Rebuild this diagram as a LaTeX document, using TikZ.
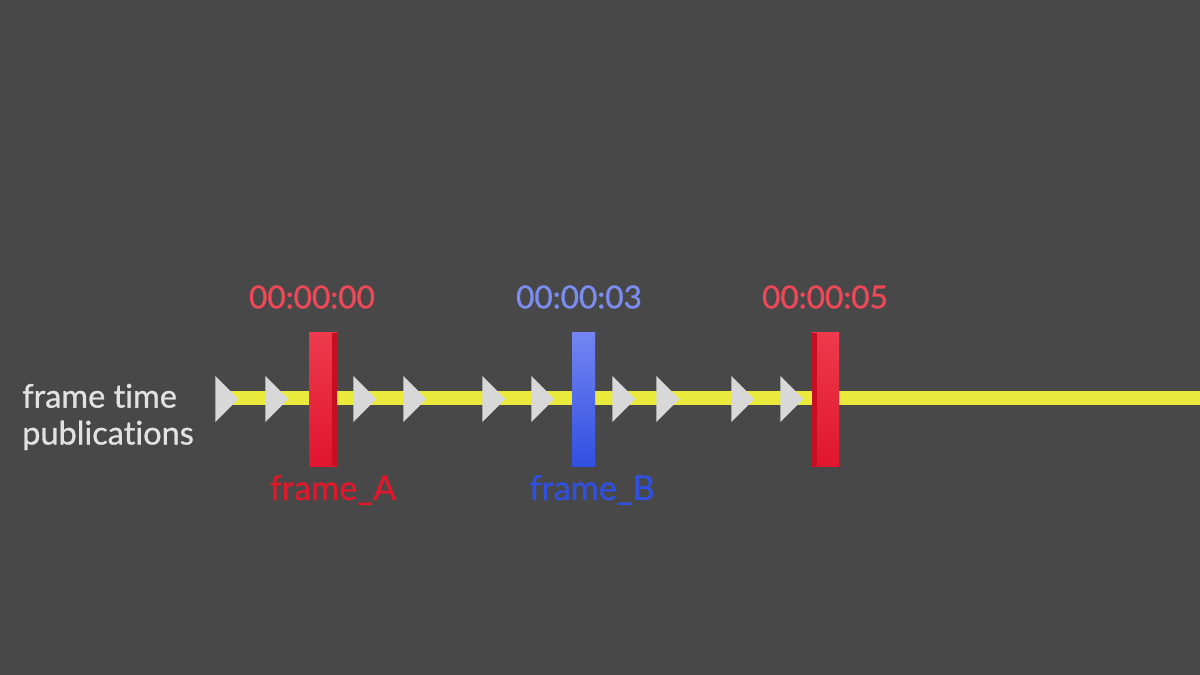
\documentclass[tikz,border=0pt]{standalone}
\usepackage{fontspec}
\setmainfont{Lato}[Ligatures=NoCommon, FakeBold=0.8]
\usepackage{tikz}
\usetikzlibrary{positioning,shapes.geometric}
\definecolor{bgGray}{HTML}{484848}
\definecolor{trackYellow}{HTML}{EAEA3C}
\definecolor{tickGray}{HTML}{D8D8D8}
\definecolor{redTop}{HTML}{EE3A4C}
\definecolor{redBot}{HTML}{E0162E}
\definecolor{redSide}{HTML}{C80E22}
\definecolor{redLabel}{HTML}{F04858}
\definecolor{redName}{HTML}{E0182C}
\definecolor{blueTop}{HTML}{7484F2}
\definecolor{blueBot}{HTML}{3050E2}
\definecolor{blueLabel}{HTML}{7C8CF0}
\definecolor{blueName}{HTML}{3050E0}
\definecolor{textGray}{HTML}{E2E2E2}

\begin{document}
\begin{tikzpicture}[
    x=0.02cm, y=-0.02cm,
    tick/.style={isosceles triangle, isosceles triangle stretches, fill=tickGray,
        minimum height=23*0.02cm, minimum width=46*0.02cm, inner sep=0pt, anchor=west},
    bar/.style={minimum width=28*0.02cm, minimum height=133*0.02cm, inner sep=0pt},
    stamp/.style={font=\fontsize{18}{21}\selectfont},
    framename/.style={font=\fontsize{19.5}{22}\selectfont},
    rowtext/.style={font=\fontsize{18.5}{21}\selectfont},
]
    % background
    \fill[bgGray] (0,0) rectangle (1200,675);
    \useasboundingbox (0,0) rectangle (1200,675);

    % track
    \coordinate (start) at (220,398);
    \coordinate (end) at (1200,398);
    \draw[trackYellow, line width=14*0.02cm] (start) -- (end);

    % frame time ticks
    \foreach \x [count=\i] in {215,265,353,403,482,531,612,656,731,780}
        \node[tick] (t\i) at (\x,399) {};

    % frames
    \node[bar, top color=redTop, bottom color=redBot] (barA) at (323,399.5) {};
    \fill[redSide] ([xshift=-5*0.02cm]barA.north east) rectangle (barA.south east);
    \node[bar, top color=blueTop, bottom color=blueBot, minimum width=23*0.02cm] (barB) at (583.5,399.5) {};
    \node[bar, top color=redTop, bottom color=redBot, minimum width=27*0.02cm] (barC) at (825.5,399.5) {};
    \fill[redSide] (barC.north west) rectangle ([xshift=5*0.02cm]barC.south west);

    % timestamps
    \node[stamp, text=redLabel] (stampA) at (312,297) {00:00:00};
    \node[stamp, text=blueLabel] (stampB) at (579,297) {00:00:03};
    \node[stamp, text=redLabel] (stampC) at (825,297) {00:00:05};

    % frame names
    \node[framename, text=redName] (nameA) at (333,490) {frame\_A};
    \node[framename, text=blueName] (nameB) at (592,490) {frame\_B};

    % row label
    \node[rowtext, text=textGray, align=left, anchor=west] (rowlabel) at (16,417)
        {frame time\\publications};
\end{tikzpicture}
\end{document}
